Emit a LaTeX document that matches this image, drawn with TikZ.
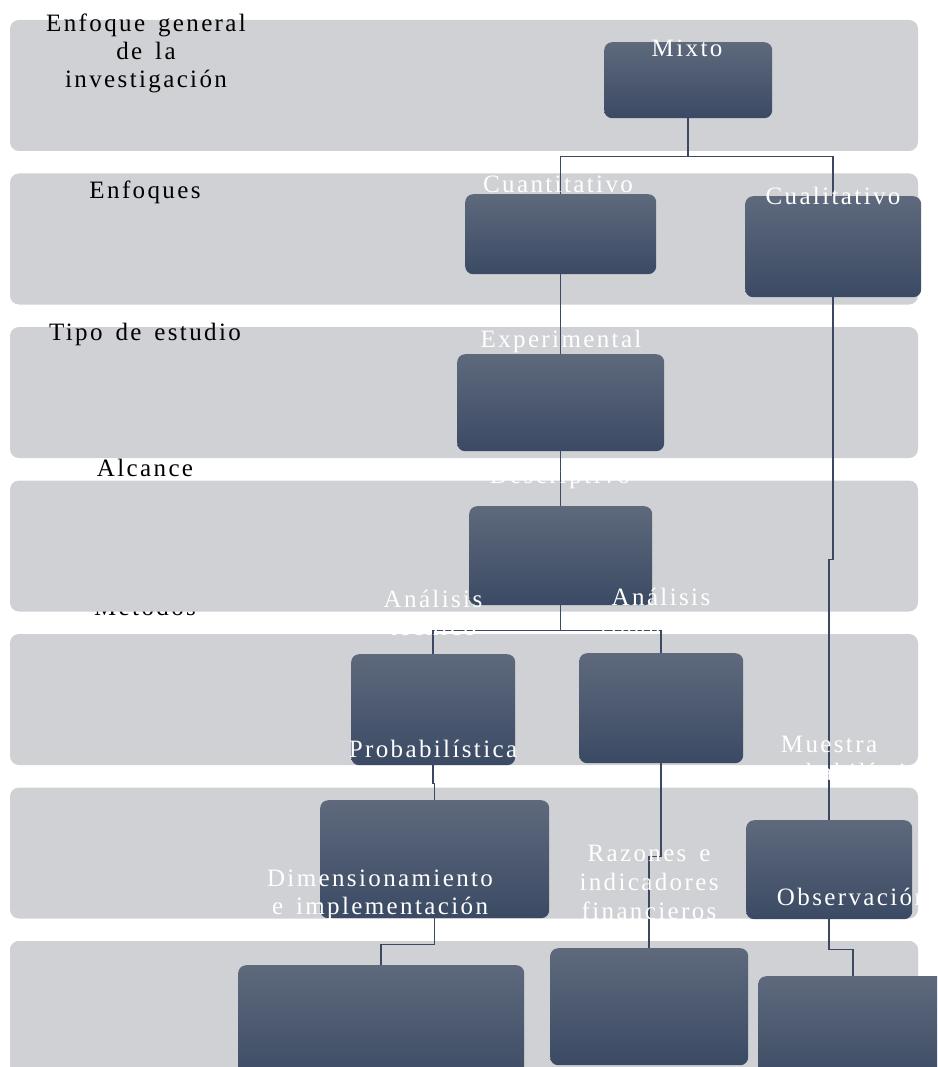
\documentclass[tikz,border=0pt]{standalone}
\usepackage{fontspec}
\setmainfont{Liberation Serif}[LetterSpace=9.5, WordSpace=1.5]
\definecolor{bandgray}{RGB}{208,209,213}
\definecolor{boxtop}{RGB}{94,105,124}
\definecolor{boxbot}{RGB}{59,74,100}
\definecolor{linkcol}{RGB}{58,72,97}
\newcommand{\labelfont}{\fontsize{25}{28}\selectfont}
\tikzset{
  band/.style={fill=bandgray, rounded corners=9pt},
  box/.style={rounded corners=8pt, top color=boxtop, bottom color=boxbot,
              draw=none, inner sep=0pt, anchor=north west},
  link/.style={draw=linkcol, line width=1.5pt},
  blabel/.style={anchor=base, inner sep=0pt, text=black, font=\labelfont},
  wlabel/.style={anchor=base, inner sep=0pt, text=white, font=\labelfont},
}
\begin{document}
\begin{tikzpicture}[x=1pt, y=-1pt]
\useasboundingbox (0,0) rectangle (937,1067);
\clip (0,0) rectangle (937,1067);

% row label that sits behind the fourth band
\node[blabel] (lmet) at (145,615) {Métodos};

% horizontal bands
\foreach \i in {0,...,6}{
  \fill[band] (10,{20+153.5*\i}) rectangle (918,{20+153.5*\i+131});
}
\fill[band] (10,941) rectangle (918,1100);

% row labels
\node[blabel] (lenf1) at (146,32) {Enfoque general};
\node[blabel] (lenf2) at (146,60) {de la};
\node[blabel] (lenf3) at (146,88) {investigación};
\node[blabel] (lenfq) at (145,199) {Enfoques};
\node[blabel] (ltipo) at (145,340) {Tipo de estudio};
\node[blabel] (lalc) at (145,476) {Alcance};

% boxes
\node[box, minimum width=168pt, minimum height=76pt]  (mixto)  at (604,42)  {};
\node[box, minimum width=191pt, minimum height=80pt]  (cuanti) at (465,194) {};
\node[box, minimum width=176pt, minimum height=101pt] (cuali)  at (745,196) {};
\node[box, minimum width=207pt, minimum height=97pt]  (exper)  at (457,354) {};
\node[box, minimum width=183pt, minimum height=99pt]  (desc)   at (469,506) {};
\node[box, minimum width=164pt, minimum height=111pt] (tec)    at (351,654) {};
\node[box, minimum width=164pt, minimum height=110pt] (fin)    at (579,653) {};
\node[box, minimum width=229pt, minimum height=118pt] (prob)   at (320,800) {};
\node[box, minimum width=166pt, minimum height=99pt]  (mues)   at (746,820) {};
\node[box, minimum width=286pt, minimum height=120pt] (dim)    at (238,965) {};
\node[box, minimum width=198pt, minimum height=117pt] (raz)    at (550,948) {};
\node[box, minimum width=190pt, minimum height=110pt] (obs)    at (758,976) {};

% connectors
\draw[link] (mixto.south) -- ++(0,38) coordinate (m1);
\draw[link] (m1) -| (cuanti.north);
\draw[link] (m1) -| (cuali.north);
\draw[link] (cuanti.south) -- (exper.north);
\draw[link] (exper.south) -- (desc.south |- desc.north);
\draw[link] (desc.south) -- ++(0,25) coordinate (d1);
\draw[link] (d1) -| (tec.north);
\draw[link] (d1) -| (fin.north);
\draw[link] (tec.south) -- ++(0,18) -| (prob.north);
\draw[link] (prob.south) -- ++(0,26) -| (dim.north);
\draw[link] (fin.south) -- ++(0,93) -| (raz.north);
\draw[link] (cuali.south) -- ++(0,262) -| (mues.north);
\draw[link] (mues.south) -- ++(0,30) -| (obs.north);

% box captions
\node[wlabel] (tmixto)  at (687,57)  {Mixto};
\node[wlabel] (tcuanti) at (558,193) {Cuantitativo};
\node[wlabel] (tcuali)  at (833,205) {Cualitativo};
\node[wlabel] (texper)  at (561,347) {Experimental};
\node[wlabel] (tdesc)   at (560,483) {Descriptivo};
\node[wlabel] (ttec1)   at (433,607) {Análisis};
\node[wlabel] (ttec2)   at (433,635) {técnico};
\node[wlabel] (tfin1)   at (661,605) {Análisis};
\node[wlabel] (tfin2)   at (661,633) {financiero};
\node[wlabel] (tprob)   at (433,757) {Probabilística};
\node[wlabel] (tmues1)  at (829,752) {Muestra};
\node[wlabel] (tmues2)  at (829,780) {no probabilística};
\node[wlabel] (tdim1)   at (380,886) {Dimensionamiento};
\node[wlabel] (tdim2)   at (380,914) {e implementación};
\node[wlabel] (traz1)   at (649,861) {Razones e};
\node[wlabel] (traz2)   at (649,890) {indicadores};
\node[wlabel] (traz3)   at (649,919) {financieros};
\begin{scope}
  \clip (0,0) rectangle (917,1067);
  \node[wlabel] (tobs) at (852,905) {Observación};
\end{scope}
\end{tikzpicture}
\end{document}
